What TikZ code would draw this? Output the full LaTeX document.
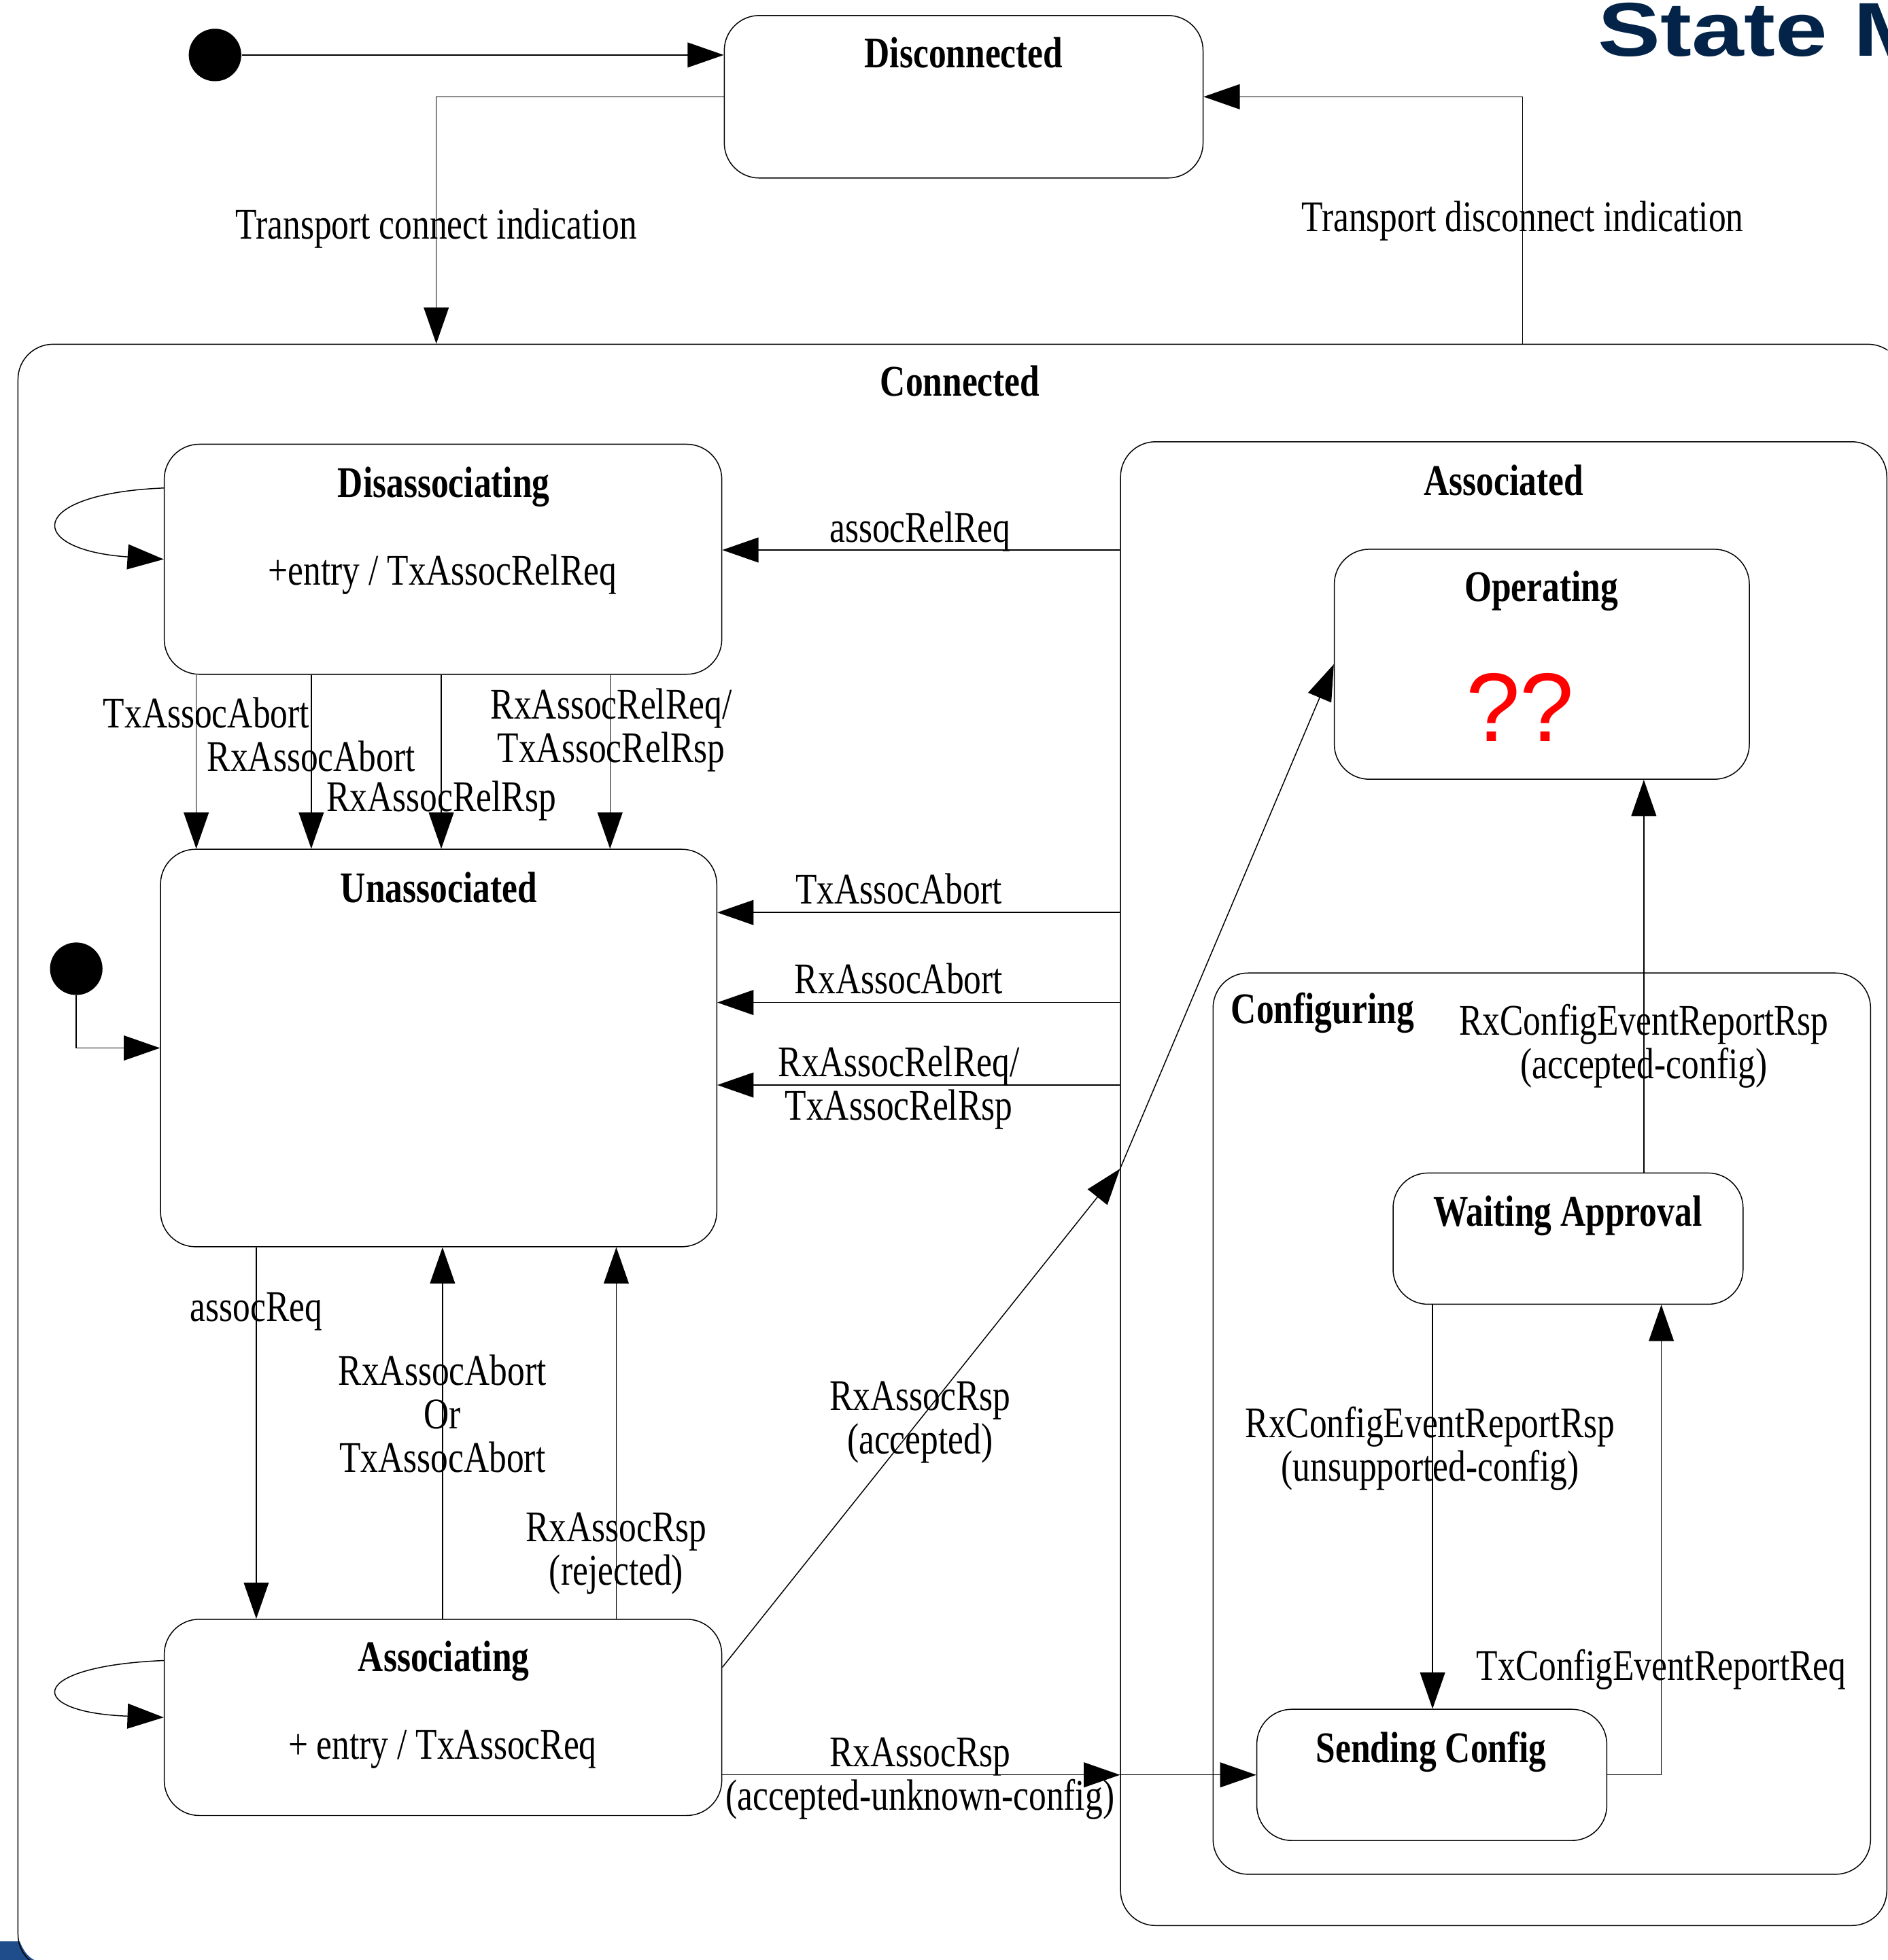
\documentclass[tikz,border=0pt]{standalone}
\usepackage{fontspec}
\setmainfont{Liberation Serif}[FakeStretch=0.8]
\newfontfamily\qfont{Liberation Sans}
\newfontfamily\hdfont{Liberation Sans}[FakeStretch=1.23]
\usetikzlibrary{arrows.meta}
\definecolor{navy}{HTML}{032448}
\definecolor{cornerblue}{HTML}{1F4D8C}
\newcommand\fsz{\fontsize{17.5pt}{18.5pt}\selectfont}
\tikzset{
  stbox/.style={draw=black, line width=0.4pt, rounded corners=14pt, inner sep=0pt, anchor=north west},
  arr/.style={draw, line width=0.4pt, -{Triangle[length=14.5pt,width=10pt]}},
  lab/.style={inner sep=0pt, anchor=base, font=\fsz},
  ttl/.style={inner sep=0pt, anchor=base, font=\fsz\bfseries},
  initdot/.style={circle, fill=black, inner sep=0pt, minimum size=21pt},
}
\begin{document}
\begin{tikzpicture}[x=0.5pt,y=-0.5pt]
\useasboundingbox (0,0) rectangle (1510,1568);
\clip (0,0) rectangle (1510,1568);
% background corner
\fill[cornerblue] (0,1553) -- (15.7,1553) .. controls (19,1561) and (22,1565) .. (27.4,1568) -- (0,1568) -- cycle;
% heading
\node[inner sep=0pt, anchor=base west, text=navy, font=\hdfont\bfseries\fontsize{30.5pt}{32pt}\selectfont] (head) at (1278,45) {State M};

% states
\node[stbox, minimum width=191.5pt, minimum height=65pt] (disc) at (579,12) {};
\node[stbox, minimum width=754pt, minimum height=650pt] (conn) at (14,275) {};
\node[stbox, minimum width=223pt, minimum height=92pt] (disa) at (131,355) {};
\node[stbox, minimum width=222.5pt, minimum height=159pt] (unas) at (128,679) {};
\node[stbox, minimum width=306.5pt, minimum height=593.5pt] (asso) at (896,353) {};
\node[stbox, minimum width=166pt, minimum height=92pt] (oper) at (1067,439) {};
\node[stbox, minimum width=263pt, minimum height=360.5pt] (cfg) at (970,778) {};
\node[stbox, minimum width=140pt, minimum height=52.5pt] (wait) at (1114,938) {};
\node[stbox, minimum width=140pt, minimum height=52.5pt] (send) at (1005,1367) {};
\node[stbox, minimum width=223pt, minimum height=78.5pt] (asing) at (131,1295) {};

\node[initdot] (init1) at (172,44) {};
\node[initdot] (init2) at (61,775) {};

% titles
\node[ttl] (tdisc) at (771,54) {Disconnected};
\node[ttl] (tconn) at (768,317) {Connected};
\node[ttl] (tdisa) at (355,398) {Disassociating};
\node[lab] (edisa) at (354,468) {+entry / TxAssocRelReq};
\node[ttl] (tunas) at (351,722) {Unassociated};
\node[ttl] (tasso) at (1203,396) {Associated};
\node[ttl] (toper) at (1233,481) {Operating};
\node[inner sep=0pt, anchor=base, text=red, font=\qfont\fontsize{39pt}{40pt}\selectfont] (qq) at (1216,593) {??};
\node[ttl] (tcfg) at (1058,819) {Configuring};
\node[ttl] (twait) at (1254,981) {Waiting Approval};
\node[ttl] (tsend) at (1145,1410) {Sending Config};
\node[ttl] (tasing) at (355,1337) {Associating};
\node[lab] (easing) at (354,1407) {+ entry / TxAssocReq};

% transitions
\draw[arr] (init1) -- (init1 -| disc.west);
\draw[arr] (disc.west) -| (349,0 |- conn.north);
\node[lab] (l1) at (349,191) {Transport connect indication};
\draw[arr] (1218,0 |- conn.north) |- (disc.east);
\node[lab] (l2) at (1218,185) {Transport disconnect indication};

\draw[arr] ([yshift=28.5pt]disa.west) .. controls (20,395) and (20,440) .. (disa.west);
\draw[arr] ([yshift=22.75pt]asing.west) .. controls (20,1333) and (20,1370) .. (asing.west);

\draw[arr] (157,0 |- disa.south) -- (157,0 |- unas.north);
\draw[arr] (249,0 |- disa.south) -- (249,0 |- unas.north);
\draw[arr] (353,0 |- disa.south) -- (353,0 |- unas.north);
\draw[arr] (488,0 |- disa.south) -- (488,0 |- unas.north);
\node[lab] (l3) at (165,582) {TxAssocAbort};
\node[lab] (l4) at (249,617) {RxAssocAbort};
\node[lab] (l5) at (353,649) {RxAssocRelRsp};
\node[lab] (l6a) at (489,575) {RxAssocRelReq/};
\node[lab] (l6b) at (489,610) {TxAssocRelRsp};

\draw[arr] (asso.west |- 0,440) -- (disa.east |- 0,440);
\node[lab] (l7) at (736,434) {assocRelReq};
\draw[arr] (asso.west |- 0,730) -- (unas.east |- 0,730);
\node[lab] (l8) at (719,723) {TxAssocAbort};
\draw[arr] (asso.west |- 0,802) -- (unas.east |- 0,802);
\node[lab] (l9) at (719,795) {RxAssocAbort};
\draw[arr] (asso.west |- 0,868) -- (unas.east |- 0,868);
\node[lab] (l10a) at (719,861) {RxAssocRelReq/};
\node[lab] (l10b) at (719,896) {TxAssocRelRsp};

\draw[arr] (init2) |- (unas.west);

\draw[arr] (205,0 |- unas.south) -- (205,0 |- asing.north);
\node[lab] (l11) at (205,1057) {assocReq};
\draw[arr] (354,0 |- asing.north) -- (354,0 |- unas.south);
\node[lab] (l12a) at (354,1108) {RxAssocAbort};
\node[lab] (l12b) at (354,1143) {Or};
\node[lab] (l12c) at (354,1178) {TxAssocAbort};
\draw[arr] (493,0 |- asing.north) -- (493,0 |- unas.south);
\node[lab] (l13a) at (493,1233) {RxAssocRsp};
\node[lab] (l13b) at (493,1268) {(rejected)};

\coordinate (bnd1) at (asso.west |- 0,935);
\draw[arr] ([yshift=20pt]asing.east) -- (bnd1);
\draw[arr] (bnd1) -- (oper.west);
\node[lab] (l14a) at (736,1128) {RxAssocRsp};
\node[lab] (l14b) at (736,1163) {(accepted)};

\coordinate (bnd2) at (asso.west |- send.west);
\draw[arr] (asing.east |- send.west) -- (bnd2);
\draw[arr] (bnd2) -- (send.west);
\node[lab] (l15a) at (736,1413) {RxAssocRsp};
\node[lab] (l15b) at (736,1448) {(accepted-unknown-config)};

\draw[arr] (1315,0 |- wait.north) -- (1315,0 |- oper.south);
\node[lab] (l16a) at (1315,828) {RxConfigEventReportRsp};
\node[lab] (l16b) at (1315,863) {(accepted-config)};
\draw[arr] (1146,0 |- wait.south) -- (1146,0 |- send.north);
\node[lab] (l17a) at (1144,1150) {RxConfigEventReportRsp};
\node[lab] (l17b) at (1144,1185) {(unsupported-config)};
\draw[arr] (send.east) -| (1329,0 |- wait.south);
\node[lab] (l18) at (1329,1344) {TxConfigEventReportReq};
\end{tikzpicture}
\end{document}
